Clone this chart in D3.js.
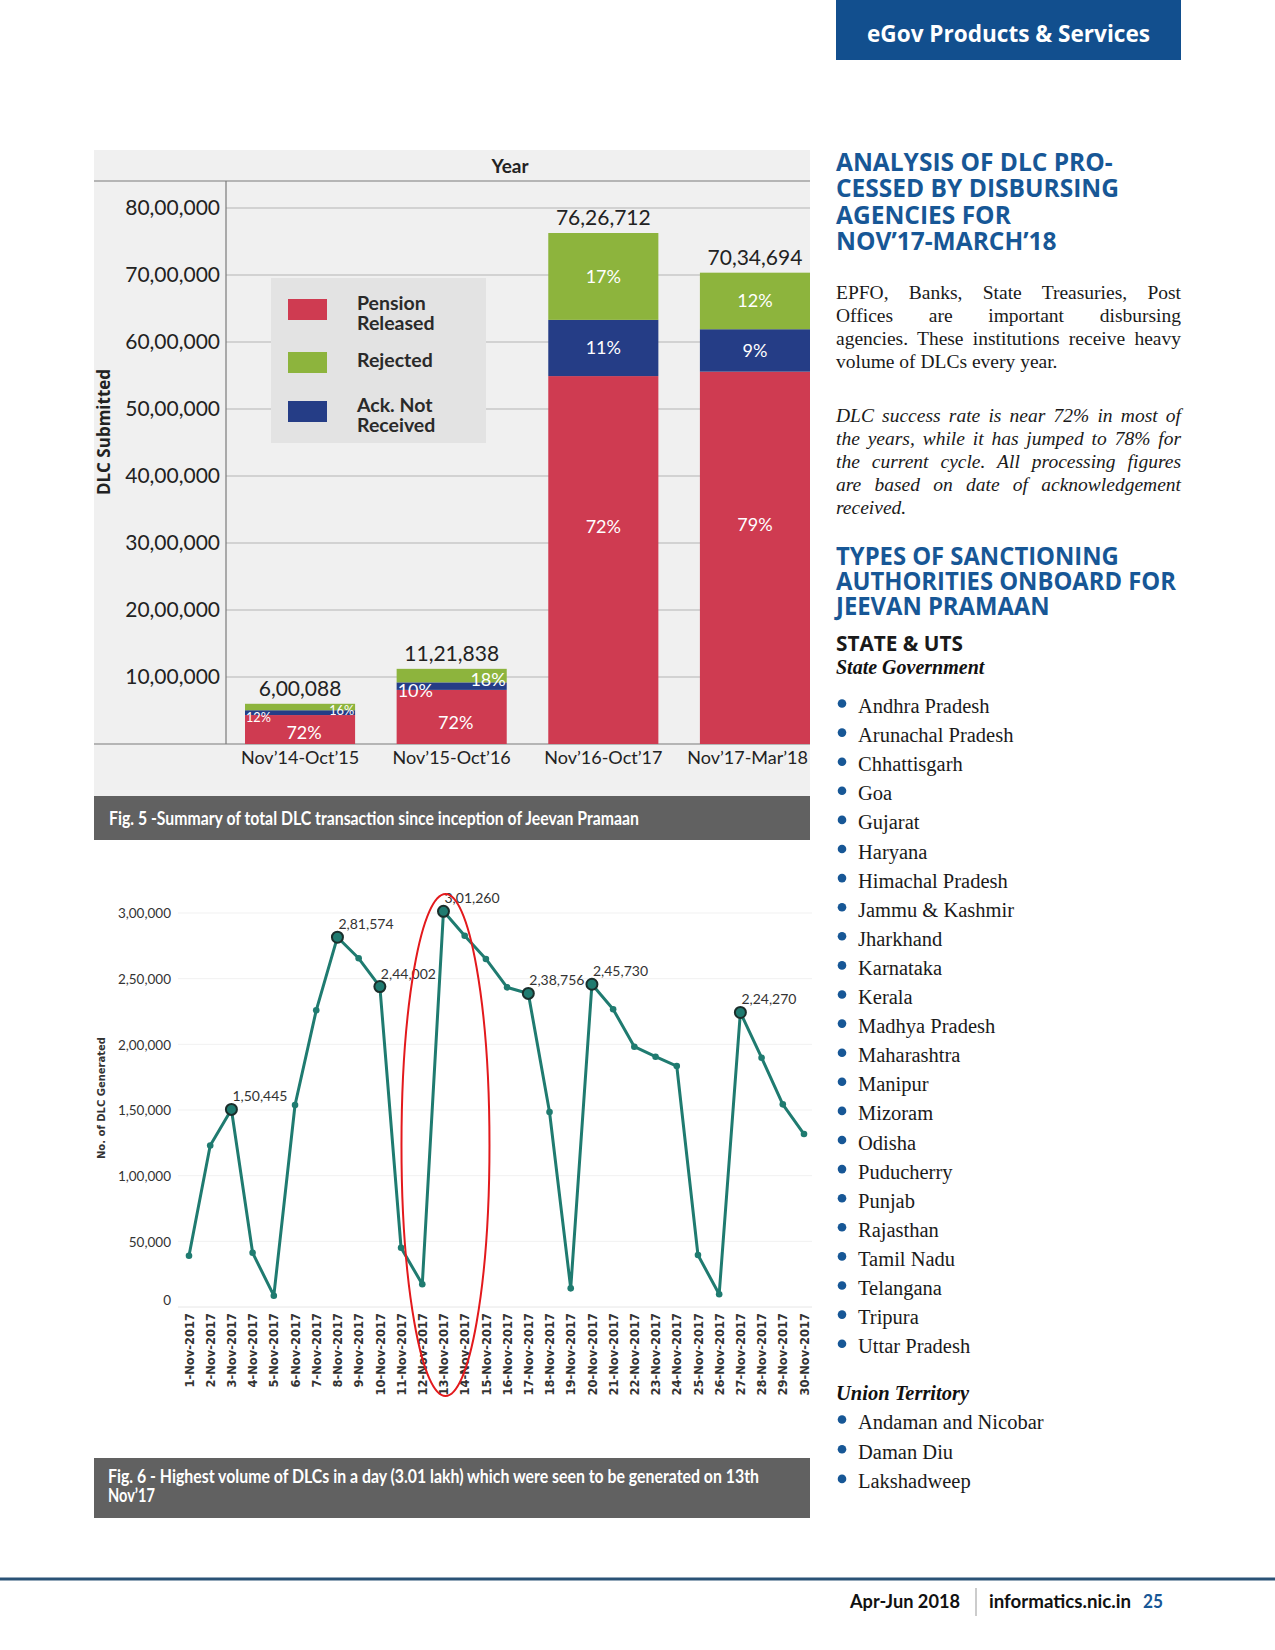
<!DOCTYPE html>
<html><head><meta charset="utf-8">
<script src="https://cdn.jsdelivr.net/npm/d3@7"></script>
<style>body{margin:0;background:#fff} svg{display:block}</style>
</head><body>
<svg id="page" width="1275" height="1650"></svg>
<script>
// ---------------- DATA ----------------
const barCategories = ["Nov’14-Oct’15", "Nov’15-Oct’16", "Nov’16-Oct’17", "Nov’17-Mar’18"];
const barTotals = [600088, 1121838, 7626712, 7034694];
const pensionPct = [72, 72, 72, 79];
const ackPct = [12, 10, 11, 9];
const rejectedPct = [16, 18, 17, 12];
const barTicks = [1000000, 2000000, 3000000, 4000000, 5000000, 6000000, 7000000, 8000000];
const legendItems = [["Pension", "Released"], ["Rejected"], ["Ack. Not", "Received"]];

const lineDates = ["1-Nov-2017","2-Nov-2017","3-Nov-2017","4-Nov-2017","5-Nov-2017","6-Nov-2017","7-Nov-2017","8-Nov-2017","9-Nov-2017","10-Nov-2017",
  "11-Nov-2017","12-Nov-2017","13-Nov-2017","14-Nov-2017","15-Nov-2017","16-Nov-2017","17-Nov-2017","18-Nov-2017","19-Nov-2017","20-Nov-2017",
  "21-Nov-2017","22-Nov-2017","23-Nov-2017","24-Nov-2017","25-Nov-2017","26-Nov-2017","27-Nov-2017","28-Nov-2017","29-Nov-2017","30-Nov-2017"];
const lineValues = [39000, 123000, 150445, 41300, 8600, 153800, 225900, 281574, 265500, 244002,
  45100, 17300, 301260, 282700, 265000, 243400, 238756, 148500, 14200, 245730,
  226700, 198200, 190600, 183500, 39600, 9700, 224270, 189800, 154300, 131700];
const labeledDates = ["3-Nov-2017", "8-Nov-2017", "10-Nov-2017", "13-Nov-2017", "17-Nov-2017", "20-Nov-2017", "27-Nov-2017"];
const lineTicks = [0, 50000, 100000, 150000, 200000, 250000, 300000];

const stateList = ["Andhra Pradesh","Arunachal Pradesh","Chhattisgarh","Goa","Gujarat","Haryana","Himachal Pradesh","Jammu & Kashmir",
  "Jharkhand","Karnataka","Kerala","Madhya Pradesh","Maharashtra","Manipur","Mizoram","Odisha","Puducherry","Punjab","Rajasthan",
  "Tamil Nadu","Telangana","Tripura","Uttar Pradesh"];
const utList = ["Andaman and Nicobar", "Daman Diu", "Lakshadweep"];

// ---------------- HELPERS ----------------
function fmtIN(n) {
  const s = String(Math.round(n));
  if (s.length <= 3) return s;
  const last3 = s.slice(-3);
  const rest = s.slice(0, -3).replace(/\B(?=(\d{2})+(?!\d))/g, ",");
  return rest + "," + last3;
}
const svg = d3.select("#page");
svg.append("rect").attr("width", 1275).attr("height", 1650).attr("fill", "#fff");

const C = { pension: "#cf3b51", ack: "#253d86", rejected: "#8db43d", teal: "#1f7b70", blue: "#175796", text: "#222" };

// ================= BAR CHART (Fig. 5) =================
const gB = svg.append("g");
gB.append("rect").attr("x", 94).attr("y", 150).attr("width", 716).attr("height", 646).attr("fill", "#f0f0f0");

const xB = d3.scaleBand().domain(barCategories).range([245, 810]).paddingInner(0.274).paddingOuter(0);
const yB = d3.scaleLinear().domain([0, 8000000]).range([744, 208]);

gB.append("g").selectAll("line").data(barTicks).join("line")
  .attr("x1", 226).attr("x2", 810).attr("y1", d => yB(d)).attr("y2", d => yB(d))
  .attr("stroke", "#b4b4b4").attr("stroke-width", 1);
gB.append("line").attr("x1", 94).attr("x2", 810).attr("y1", 181).attr("y2", 181).attr("stroke", "#7a7a7a").attr("stroke-width", 1.2);
gB.append("line").attr("x1", 94).attr("x2", 810).attr("y1", yB(0)).attr("y2", yB(0)).attr("stroke", "#7a7a7a").attr("stroke-width", 1.2);
gB.append("line").attr("x1", 226).attr("x2", 226).attr("y1", 181).attr("y2", yB(0)).attr("stroke", "#7a7a7a").attr("stroke-width", 1.2);

gB.append("text").attr("x", 510).attr("y", 173).attr("text-anchor", "middle")
  .attr("font-family", "Lato").attr("font-weight", 700).attr("font-size", 19).attr("fill", C.text).text("Year");

const yAxisB = d3.axisLeft(yB).tickValues(barTicks).tickFormat(fmtIN).tickSize(0).tickPadding(0);
const yAxG = gB.append("g").attr("transform", "translate(220,0)").call(yAxisB);
yAxG.select(".domain").remove();
yAxG.selectAll("text").attr("font-family", "Lato").attr("font-size", 21).attr("fill", C.text).attr("dy", "0.3em");

const xAxisB = d3.axisBottom(xB).tickSize(0).tickPadding(0);
const xAxG = gB.append("g").attr("transform", `translate(0,${yB(0)})`).call(xAxisB);
xAxG.select(".domain").remove();
xAxG.selectAll("text").attr("font-family", "Lato").attr("font-size", 18).attr("fill", C.text).attr("dy", 0).attr("y", 20)
  .each(function () {
    // keep the label inside the panel
    const b = this.getBBox(); const tr = this.parentNode.transform.baseVal.consolidate();
    const tx = tr ? tr.matrix.e : 0; const over = tx + b.x + b.width - 808;
    if (over > 0) d3.select(this).attr("x", -over);
  });

gB.append("text").attr("transform", "translate(110,432) rotate(-90)").attr("text-anchor", "middle")
  .attr("font-family", "Open Sans").attr("font-weight", 700).attr("font-size", 17).attr("fill", "#222").text("DLC Submitted");

const barRows = barCategories.map((c, i) => ({
  cat: c, total: barTotals[i],
  pension: barTotals[i] * pensionPct[i] / 100,
  ack: barTotals[i] * ackPct[i] / 100,
  rejected: barTotals[i] * rejectedPct[i] / 100,
  pct: { pension: pensionPct[i], ack: ackPct[i], rejected: rejectedPct[i] }
}));
const keys = ["pension", "ack", "rejected"];
const stacked = d3.stack().keys(keys)(barRows);
gB.append("g").selectAll("g").data(stacked).join("g").attr("fill", d => C[d.key])
  .selectAll("rect").data(d => d).join("rect")
  .attr("x", d => xB(d.data.cat)).attr("width", xB.bandwidth())
  .attr("y", d => yB(d[1])).attr("height", d => yB(d[0]) - yB(d[1]));

gB.append("g").selectAll("text").data(barRows).join("text")
  .attr("x", d => xB(d.cat) + xB.bandwidth() / 2).attr("y", d => yB(d.total) - 8)
  .attr("text-anchor", "middle").attr("font-family", "Lato").attr("font-size", 21).attr("fill", C.text)
  .text(d => fmtIN(d.total));

const pctG = gB.append("g").attr("font-family", "Lato").attr("fill", "#fff");
barRows.forEach(r => {
  const x0 = xB(r.cat), bw = xB.bandwidth(), cx = x0 + bw / 2;
  const small = r.total < 2000000;
  const redTop = r.pension, blueTop = r.pension + r.ack, greenTop = r.total;
  const h = yB(0) - yB(r.total);
  if (!small) {
    pctG.append("text").attr("x", cx).attr("y", yB(redTop * 0.59)).attr("dy", "0.35em").attr("text-anchor", "middle").attr("font-size", 18).text(r.pct.pension + "%");
    pctG.append("text").attr("x", cx).attr("y", (yB(redTop) + yB(blueTop)) / 2).attr("dy", "0.35em").attr("text-anchor", "middle").attr("font-size", 18).text(r.pct.ack + "%");
    pctG.append("text").attr("x", cx).attr("y", (yB(blueTop) + yB(greenTop)) / 2).attr("dy", "0.35em").attr("text-anchor", "middle").attr("font-size", 18).text(r.pct.rejected + "%");
  } else {
    const fs = Math.min(18, 6 + h / 6);
    pctG.append("text").attr("x", cx + 4).attr("y", yB(redTop * 0.4)).attr("dy", "0.35em").attr("text-anchor", "middle").attr("font-size", 18).text(r.pct.pension + "%");
    pctG.append("text").attr("x", x0 + 1).attr("y", (yB(redTop) + yB(blueTop)) / 2 + 5).attr("dy", "0.35em").attr("text-anchor", "start").attr("font-size", fs).text(r.pct.ack + "%");
    pctG.append("text").attr("x", x0 + bw - 1).attr("y", (yB(blueTop) + yB(greenTop)) / 2 + 4).attr("dy", "0.35em").attr("text-anchor", "end").attr("font-size", fs).text(r.pct.rejected + "%");
  }
});

const leg = gB.append("g");
leg.append("rect").attr("x", 271).attr("y", 278).attr("width", 215).attr("height", 165).attr("fill", "#e3e3e3");
const legKeys = ["pension", "rejected", "ack"];
const legY = [299, 352, 401];
legendItems.forEach((lines, i) => {
  leg.append("rect").attr("x", 288).attr("y", legY[i]).attr("width", 39).attr("height", 21).attr("fill", C[legKeys[i]]);
  const t = leg.append("text").attr("font-family", "Lato").attr("font-weight", 700).attr("font-size", 19.5).attr("fill", "#2a2a2a");
  const startY = lines.length === 2 ? legY[i] + 11 : legY[i] + 15;
  lines.forEach((ln, j) => t.append("tspan").attr("x", 357).attr("y", startY + j * 20).text(ln));
});

gB.append("rect").attr("x", 94).attr("y", 796).attr("width", 716).attr("height", 44).attr("fill", "#616161");
gB.append("text").attr("x", 109).attr("y", 825).attr("font-family", "Lato").attr("font-weight", 700).attr("font-size", 18)
  .attr("fill", "#fff").attr("textLength", 530).attr("lengthAdjust", "spacingAndGlyphs")
  .text("Fig. 5 -Summary of total DLC transaction since inception of Jeevan Pramaan");

// ================= LINE CHART (Fig. 6) =================
const gL = svg.append("g");
const xL = d3.scalePoint().domain(lineDates).range([189, 804]);
const yL = d3.scaleLinear().domain([0, 300000]).range([1307, 913]);

gL.append("g").selectAll("line").data(lineTicks).join("line")
  .attr("x1", 178).attr("x2", 812).attr("y1", d => yL(d)).attr("y2", d => yL(d))
  .attr("stroke", d => d === 0 ? "#e6e6e6" : "#f1f1f1").attr("stroke-width", 1);

const yAxL = gL.append("g").attr("transform", "translate(171,0)")
  .call(d3.axisLeft(yL).tickValues(lineTicks).tickFormat(fmtIN).tickSize(0).tickPadding(0));
yAxL.select(".domain").remove();
yAxL.selectAll("text").attr("font-family", "Lato").attr("font-size", 13.5).attr("fill", "#333")
  .attr("dy", d => d === 0 ? "-0.2em" : "0.35em");

const xAxL = gL.append("g").attr("transform", "translate(0,1313)")
  .call(d3.axisBottom(xL).tickSize(0).tickPadding(0));
xAxL.select(".domain").remove();
xAxL.selectAll("text").attr("font-family", "DejaVu Sans").attr("font-weight", 700).attr("font-size", 11.5)
  .attr("fill", "#333").attr("text-anchor", "end").attr("transform", "rotate(-90)")
  .attr("x", 0).attr("y", 0).attr("dy", "0.36em");

gL.append("text").attr("transform", "translate(105,1098) rotate(-90)").attr("text-anchor", "middle")
  .attr("font-family", "DejaVu Sans").attr("font-weight", 700).attr("font-size", 10).attr("fill", "#333").text("No. of DLC Generated");

const pts = lineDates.map((d, i) => ({ date: d, value: lineValues[i] }));
gL.append("path").datum(pts)
  .attr("d", d3.line().x(d => xL(d.date)).y(d => yL(d.value)))
  .attr("fill", "none").attr("stroke", C.teal).attr("stroke-width", 3).attr("stroke-linejoin", "round");
gL.append("g").selectAll("circle").data(pts.filter(p => !labeledDates.includes(p.date))).join("circle")
  .attr("cx", d => xL(d.date)).attr("cy", d => yL(d.value)).attr("r", 3.3).attr("fill", C.teal);
const hl = pts.filter(p => labeledDates.includes(p.date));
gL.append("g").selectAll("circle").data(hl).join("circle")
  .attr("cx", d => xL(d.date)).attr("cy", d => yL(d.value)).attr("r", 5.5)
  .attr("fill", C.teal).attr("stroke", "#1a2e2b").attr("stroke-width", 2);
gL.append("g").selectAll("text").data(hl).join("text")
  .attr("x", d => xL(d.date) + 1).attr("y", d => yL(d.value) - 8)
  .attr("font-family", "Lato").attr("font-size", 14).attr("fill", "#333").text(d => fmtIN(d.value));

const peakX = xL("13-Nov-2017");
gL.append("ellipse").attr("cx", peakX + 2).attr("cy", 1145).attr("rx", 44).attr("ry", 251)
  .attr("fill", "none").attr("stroke", "#e3191c").attr("stroke-width", 2);

gL.append("rect").attr("x", 94).attr("y", 1458).attr("width", 716).attr("height", 60).attr("fill", "#616161");
gL.append("text").attr("x", 108).attr("y", 1483).attr("font-family", "Lato").attr("font-weight", 700).attr("font-size", 18)
  .attr("fill", "#fff").attr("textLength", 651).attr("lengthAdjust", "spacingAndGlyphs")
  .text("Fig. 6 - Highest volume of DLCs in a day (3.01 lakh) which were seen to be generated on 13th");
gL.append("text").attr("x", 108).attr("y", 1502).attr("font-family", "Lato").attr("font-weight", 700).attr("font-size", 18)
  .attr("fill", "#fff").attr("textLength", 47).attr("lengthAdjust", "spacingAndGlyphs").text("Nov’17");

// ================= RIGHT COLUMN =================
const gR = svg.append("g");
const X0 = 836, W = 345;
gR.append("rect").attr("x", X0).attr("y", 0).attr("width", W).attr("height", 60).attr("fill", "#124f8e");
gR.append("text").attr("x", X0 + W / 2).attr("y", 42).attr("text-anchor", "middle")
  .attr("font-family", "Open Sans").attr("font-weight", 700).attr("font-size", 23).attr("fill", "#fff")
  .attr("textLength", 283).attr("lengthAdjust", "spacingAndGlyphs").text("eGov Products & Services");

function heading(lines, y0, dy, refIdx, refW, size, color) {
  const ts = lines.map((ln, i) => gR.append("text").attr("x", X0).attr("y", y0 + i * dy)
    .attr("font-family", "Open Sans").attr("font-weight", 700).attr("font-size", size).attr("fill", color).text(ln));
  const k = refW / ts[refIdx].node().getComputedTextLength();
  ts.forEach(t => { const w = t.node().getComputedTextLength(); t.attr("textLength", w * k).attr("lengthAdjust", "spacingAndGlyphs"); });
}
heading(["ANALYSIS OF DLC PRO-", "CESSED BY DISBURSING", "AGENCIES FOR", "NOV’17-MARCH’18"], 171, 26.3, 1, 283, 25, C.blue);
heading(["TYPES OF SANCTIONING", "AUTHORITIES ONBOARD FOR", "JEEVAN PRAMAAN"], 565, 25, 1, 340, 25, C.blue);
heading(["STATE & UTS"], 651, 0, 0, 127, 21, "#1a1a1a");

function para(lines, y0, dy, italic, justifyCount) {
  lines.forEach((ln, i) => {
    const t = gR.append("text").attr("x", X0).attr("y", y0 + i * dy)
      .attr("font-family", "Liberation Serif").attr("font-size", 19.5).attr("fill", "#1a1a1a")
      .attr("font-style", italic ? "italic" : "normal").text(ln);
    if (i < justifyCount) {
      const w = t.node().getComputedTextLength();
      const sp = (ln.match(/ /g) || []).length;
      if (sp > 0) t.attr("word-spacing", (W - w) / sp);
    }
  });
}
para(["EPFO, Banks, State Treasuries, Post", "Offices are important disbursing", "agencies. These institutions receive heavy", "volume of DLCs every year."], 299, 23, false, 3);
para(["DLC success rate is near 72% in most of", "the years, while it has jumped to 78% for", "the current cycle. All processing figures", "are based on date of acknowledgement", "received."], 422, 23, true, 4);

gR.append("text").attr("x", X0).attr("y", 674).attr("font-family", "Liberation Serif").attr("font-weight", 700)
  .attr("font-style", "italic").attr("font-size", 20).attr("fill", "#111").text("State Government");

function bulletList(items, y0, dy) {
  items.forEach((it, i) => {
    const y = y0 + i * dy;
    gR.append("circle").attr("cx", 842).attr("cy", y - 9.5).attr("r", 4.3).attr("fill", C.blue);
    gR.append("text").attr("x", 858).attr("y", y).attr("font-family", "Liberation Serif").attr("font-size", 20.5)
      .attr("fill", "#1a1a1a").text(it);
  });
}
bulletList(stateList, 713, 29.1);
gR.append("text").attr("x", X0).attr("y", 1400).attr("font-family", "Liberation Serif").attr("font-weight", 700)
  .attr("font-style", "italic").attr("font-size", 20.5).attr("fill", "#111").text("Union Territory");
bulletList(utList, 1429, 29.7);

// ================= FOOTER =================
svg.append("line").attr("x1", 0).attr("x2", 1275).attr("y1", 1579).attr("y2", 1579).attr("stroke", "#2a5276").attr("stroke-width", 3);
svg.append("line").attr("x1", 976).attr("x2", 976).attr("y1", 1588).attr("y2", 1616).attr("stroke", "#999").attr("stroke-width", 1);
const ft = (x, w, s, fill) => svg.append("text").attr("x", x).attr("y", 1608).attr("font-family", "Lato").attr("font-weight", 700)
  .attr("font-size", 19).attr("fill", fill).attr("textLength", w).attr("lengthAdjust", "spacingAndGlyphs").text(s);
ft(850, 110, "Apr-Jun 2018", "#111");
ft(989, 142, "informatics.nic.in", "#111");
ft(1143, 20, "25", C.blue);
</script>
</body></html>
